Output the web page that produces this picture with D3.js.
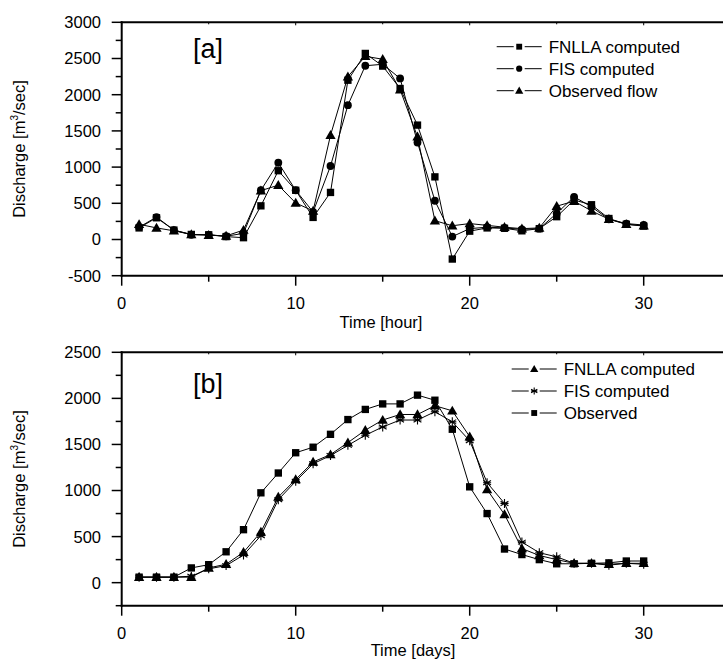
<!DOCTYPE html>
<html>
<head>
<meta charset="utf-8">
<script src="https://cdn.jsdelivr.net/npm/d3@7"></script>
<style>
  html, body { margin: 0; padding: 0; background: #fff; }
  svg { display: block; font-family: "Liberation Sans", Arial, sans-serif; }
</style>
</head>
<body>
<svg id="chart" width="723" height="662"></svg>
<script>
// ---------- DATA ----------
const hours = d3.range(1, 31);
const days = d3.range(1, 31);

// Panel [a] (hourly)
const fnllaA = [160, 300, 130, 70, 65, 40, 25, 465, 950, 680, 305, 650, 2200, 2570, 2395, 2085, 1580, 865, -270, 115, 160, 155, 120, 150, 315, 545, 480, 290, 210, 185];
const fisA   = [170, 310, 130, 65, 65, 45, 85, 680, 1060, 680, 380, 1015, 1855, 2400, 2420, 2225, 1340, 535, 40, 150, 170, 160, 140, 150, 360, 590, 450, 280, 220, 200];
const obsA   = [210, 160, 120, 70, 60, 50, 130, 675, 750, 505, 395, 1440, 2250, 2530, 2490, 2070, 1420, 260, 190, 220, 195, 170, 150, 160, 460, 530, 395, 280, 210, 190];

// Panel [b] (daily)
const fnllaB = [60, 60, 60, 60, 160, 200, 330, 550, 930, 1120, 1310, 1390, 1520, 1655, 1765, 1825, 1825, 1920, 1865, 1585, 1010, 740, 370, 295, 250, 210, 210, 200, 210, 210];
const fisB   = [60, 60, 60, 70, 150, 185, 300, 510, 900, 1100, 1290, 1380, 1490, 1600, 1690, 1765, 1765, 1855, 1745, 1540, 1085, 860, 440, 325, 280, 210, 210, 190, 210, 200];
const obsB   = [60, 60, 60, 160, 195, 335, 575, 975, 1190, 1410, 1470, 1610, 1770, 1880, 1940, 1940, 2035, 1980, 1665, 1040, 750, 365, 305, 250, 205, 205, 210, 215, 235, 235];

const xMajor = [0, 10, 20, 30];
const xMinor = [5, 15, 25];
const yMajorA = [-500, 0, 500, 1000, 1500, 2000, 2500, 3000];
const yMajorB = [0, 500, 1000, 1500, 2000, 2500];

const seriesA = [
  { name: "FNLLA computed", values: fnllaA, symbol: "square" },
  { name: "FIS computed",   values: fisA,   symbol: "circle" },
  { name: "Observed flow",  values: obsA,   symbol: "triangle" }
];
const seriesB = [
  { name: "FNLLA computed", values: fnllaB, symbol: "triangle" },
  { name: "FIS computed",   values: fisB,   symbol: "star" },
  { name: "Observed",       values: obsB,   symbol: "square" }
];

// ---------- DRAW ----------
const svg = d3.select("#chart");
const W = 723;
const left = 121.7, unit = 17.4;

function marker(g, type, x, y, scale) {
  const s = scale || 1;
  if (type === "star") {
    const r = 4.5 * s;
    const p = d3.path();
    p.moveTo(x, y - r); p.lineTo(x, y + r);
    p.moveTo(x - r * 0.87, y - r * 0.5); p.lineTo(x + r * 0.87, y + r * 0.5);
    p.moveTo(x - r * 0.87, y + r * 0.5); p.lineTo(x + r * 0.87, y - r * 0.5);
    p.moveTo(x - r * 0.9, y); p.lineTo(x + r * 0.9, y);
    g.append("path").attr("d", p.toString()).attr("stroke", "#000").attr("stroke-width", 1.1).attr("fill", "none");
    return;
  }
  const sym = type === "square" ? d3.symbolSquare : type === "circle" ? d3.symbolCircle : d3.symbolTriangle;
  const size = type === "square" ? 54 : type === "circle" ? 48 : 46;
  g.append("path")
    .attr("d", d3.symbol().type(sym).size(size * s * s)())
    .attr("transform", `translate(${x},${y + (type === "triangle" ? 0.8 * s : 0)})`)
    .attr("fill", "#000");
}

function panel(cfg) {
  const x = d3.scaleLinear().domain([0, 35]).range([left, left + unit * 35]);
  const y = d3.scaleLinear().domain(cfg.yDomain).range([cfg.bottom, cfg.top]);
  const g = svg.append("g");

  // data lines
  cfg.series.forEach(s => {
    const line = d3.line().x((d, i) => x(cfg.xs[i])).y(d => y(d));
    g.append("path").datum(s.values).attr("d", line)
      .attr("fill", "none").attr("stroke", "#000").attr("stroke-width", 1);
  });
  // markers
  cfg.series.forEach(s => {
    s.values.forEach((v, i) => marker(g, s.symbol, x(cfg.xs[i]), y(v)));
  });

  // axes frame: left, bottom, top
  g.append("line").attr("x1", left).attr("x2", left).attr("y1", cfg.top - 1).attr("y2", cfg.bottom + 1)
    .attr("stroke", "#000").attr("stroke-width", 2);
  g.append("line").attr("x1", left - 1).attr("x2", W).attr("y1", cfg.bottom).attr("y2", cfg.bottom)
    .attr("stroke", "#000").attr("stroke-width", 2);
  g.append("line").attr("x1", left - 1).attr("x2", W).attr("y1", cfg.top).attr("y2", cfg.top)
    .attr("stroke", "#000").attr("stroke-width", 2);

  // y ticks
  const yTicks = d3.range(cfg.yDomain[0], cfg.yDomain[1] + 1, 250);
  yTicks.forEach(t => {
    const major = cfg.yMajor.includes(t);
    g.append("line").attr("x1", left - (major ? 10 : 6)).attr("x2", left)
      .attr("y1", y(t)).attr("y2", y(t)).attr("stroke", "#000").attr("stroke-width", 1.5);
  });
  cfg.yMajor.forEach(t => {
    g.append("text").attr("x", 101).attr("y", y(t)).attr("dy", "0.36em")
      .attr("text-anchor", "end").attr("font-size", "16.5px").text(t);
  });

  // x ticks
  xMajor.forEach(t => {
    g.append("line").attr("x1", x(t)).attr("x2", x(t)).attr("y1", cfg.bottom).attr("y2", cfg.bottom + 10)
      .attr("stroke", "#000").attr("stroke-width", 1.5);
    g.append("line").attr("x1", x(t)).attr("x2", x(t)).attr("y1", cfg.top).attr("y2", cfg.top + 3)
      .attr("stroke", "#000").attr("stroke-width", 1);
    g.append("text").attr("x", x(t)).attr("y", cfg.bottom + 33)
      .attr("text-anchor", "middle").attr("font-size", "16.5px").text(t);
  });
  xMinor.forEach(t => {
    g.append("line").attr("x1", x(t)).attr("x2", x(t)).attr("y1", cfg.bottom).attr("y2", cfg.bottom + 6)
      .attr("stroke", "#000").attr("stroke-width", 1.5);
    g.append("line").attr("x1", x(t)).attr("x2", x(t)).attr("y1", cfg.top).attr("y2", cfg.top + 2)
      .attr("stroke", "#000").attr("stroke-width", 1);
  });

  // x title
  g.append("text").attr("x", cfg.xTitleX).attr("y", cfg.xTitleY).attr("text-anchor", "middle")
    .attr("font-size", "16.5px").text(cfg.xTitle);

  // y title
  const yt = g.append("text")
    .attr("transform", `translate(25,${(cfg.top + cfg.bottom) / 2}) rotate(-90)`)
    .attr("text-anchor", "middle").attr("font-size", "16.5px");
  yt.append("tspan").text("Discharge [m");
  yt.append("tspan").attr("font-size", "10px").attr("dy", "-7").text("3");
  yt.append("tspan").attr("dy", "7").text("/sec]");

  // panel label
  g.append("text").attr("x", 193).attr("y", cfg.top + cfg.labelDy).attr("font-size", "27px").text(cfg.label);

  // legend
  cfg.series.forEach((s, i) => {
    const cy = cfg.legY + i * 22;
    g.append("line").attr("x1", cfg.legX).attr("x2", cfg.legX + 45).attr("y1", cy).attr("y2", cy)
      .attr("stroke", "#000").attr("stroke-width", 1);
    g.append("rect").attr("x", cfg.legX + 17).attr("y", cy - 5).attr("width", 11).attr("height", 10).attr("fill", "#fff");
    marker(g, s.symbol, cfg.legX + 22.5, cy, 0.8);
    g.append("text").attr("x", cfg.legX + 52).attr("y", cy + 6).attr("font-size", "17px").text(s.name);
  });
}

panel({
  xs: hours, series: seriesA, yDomain: [-500, 3000], yMajor: yMajorA,
  top: 22.3, bottom: 275.7, xTitle: "Time [hour]", xTitleX: 381, xTitleY: 328,
  label: "[a]", labelDy: 36, legX: 496.7, legY: 46.7
});
panel({
  xs: days, series: seriesB, yDomain: [-250, 2500], yMajor: yMajorB,
  top: 352.3, bottom: 605.7, xTitle: "Time [days]", xTitleX: 413, xTitleY: 656,
  label: "[b]", labelDy: 41, legX: 511.7, legY: 369
});
</script>
</body>
</html>
